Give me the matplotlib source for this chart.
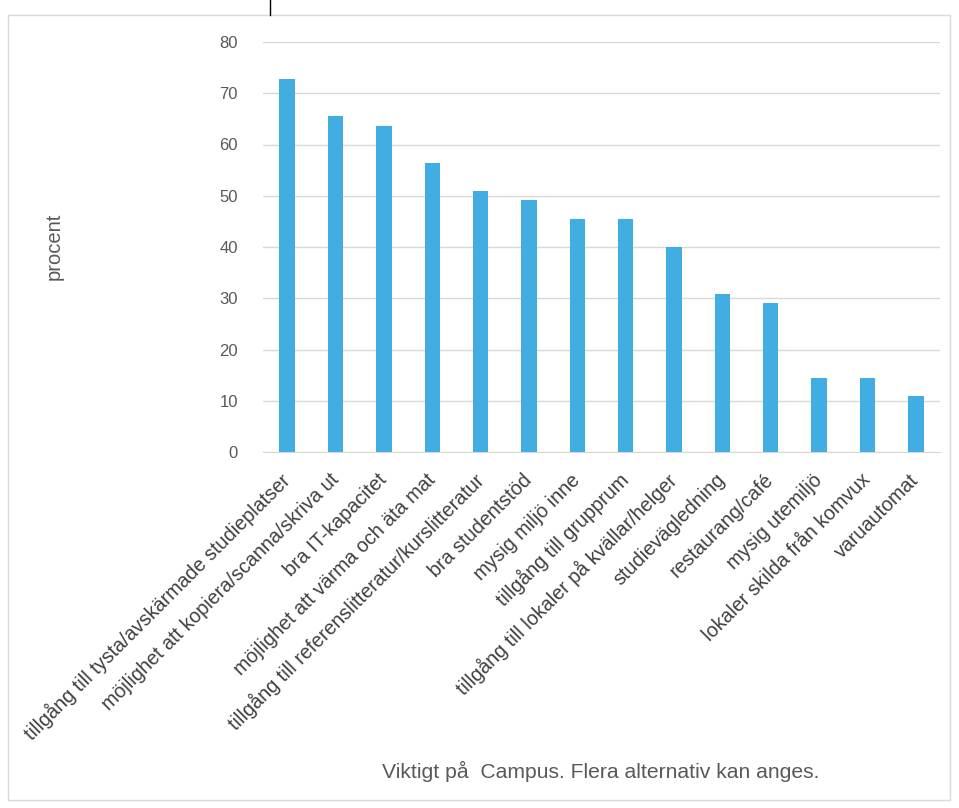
import matplotlib
matplotlib.use("Agg")
import matplotlib.pyplot as plt
from matplotlib.patches import Rectangle

categories = [
    "tillgång till tysta/avskärmade studieplatser",
    "möjlighet att kopiera/scanna/skriva ut",
    "bra IT-kapacitet",
    "möjlighet att värma och äta mat",
    "tillgång till referenslitteratur/kurslitteratur",
    "bra studentstöd",
    "mysig miljö inne",
    "tillgång till grupprum",
    "tillgång till lokaler på kvällar/helger",
    "studievägledning",
    "restaurang/café",
    "mysig utemiljö",
    "lokaler skilda från komvux",
    "varuautomat",
]
values = [72.7, 65.5, 63.6, 56.4, 50.9, 49.1, 45.5, 45.5, 40.0, 30.9, 29.1, 14.5, 14.5, 10.9]
yticks = [0, 10, 20, 30, 40, 50, 60, 70, 80]

TXT = "#595959"
plt.rcParams['font.family'] = ['Liberation Sans', 'DejaVu Sans']

fig = plt.figure(figsize=(9.59, 8.08), dpi=100)
fig.patches.append(Rectangle((8/959, 1-800/808), 942/959, 785/808, transform=fig.transFigure,
                             fill=False, edgecolor="#d9d9d9", linewidth=1.0))
fig.lines.append(plt.Line2D([270/959, 270/959], [1-15/808, 1.0], transform=fig.transFigure,
                            color="black", linewidth=1.0))

ax = fig.add_axes([263/959, 1-452/808, 677/959, 410/808])
x = range(len(categories))
ax.bar(x, values, width=0.32, color="#42ade2", zorder=3)
ax.set_xlim(-0.5, len(categories) - 0.5)
ax.set_ylim(0, 80)
ax.set_yticks(yticks)
ax.set_yticklabels([str(v) for v in yticks], fontsize=12, color=TXT)
ax.set_xticks(list(x))
ax.set_xticklabels(categories, rotation=45, ha="right", va="center", rotation_mode="anchor",
                   fontsize=14.2, color="#404040")
ax.tick_params(axis="both", length=0)
ax.tick_params(axis="y", pad=18)
ax.tick_params(axis="x", pad=18)
ax.grid(axis="y", color="#d9d9d9", linewidth=1.0, zorder=0)
for s in ["top", "right", "left"]:
    ax.spines[s].set_visible(False)
ax.spines["bottom"].set_color("#d9d9d9")

fig.text(54/959, 1-246/808, "procent", rotation=90, ha="center", va="center",
         fontsize=14.5, color=TXT)
fig.text(601/959, 1-771/808, "Viktigt på  Campus. Flera alternativ kan anges.",
         ha="center", va="center", fontsize=15.2, color=TXT)

fig.savefig("out.png", dpi=100, facecolor="white")
